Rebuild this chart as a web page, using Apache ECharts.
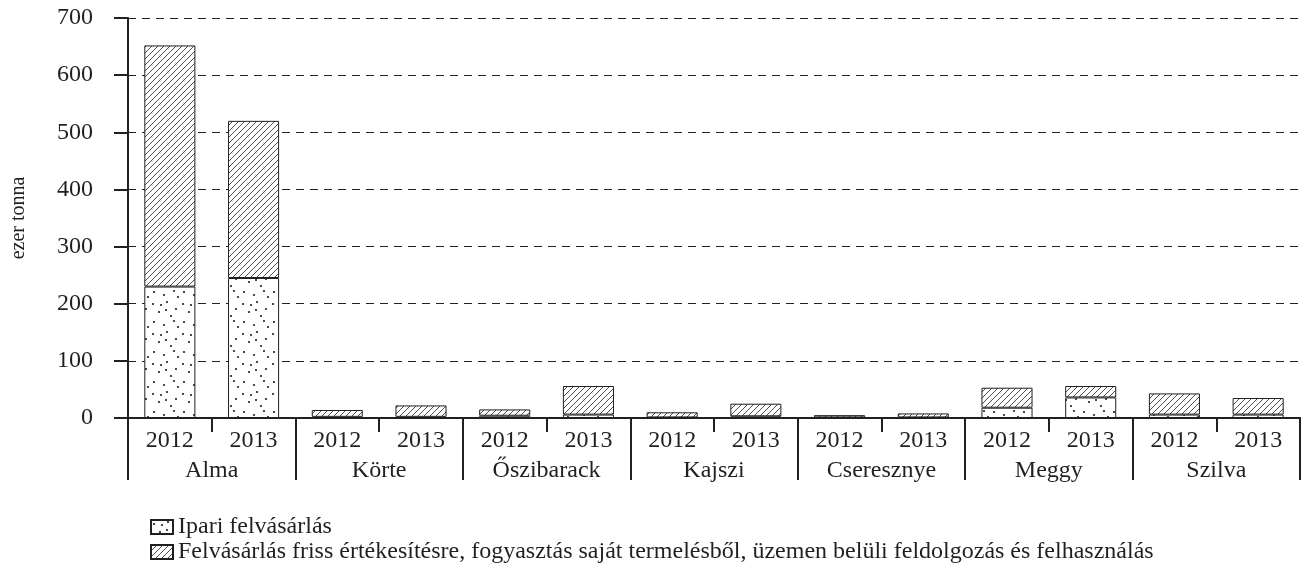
<!DOCTYPE html>
<html>
<head>
<meta charset="utf-8">
<script src="https://cdn.jsdelivr.net/npm/echarts@6/dist/echarts.min.js"></script>
<style>
  html, body { margin: 0; padding: 0; background: #fff; }
  #chart { width: 1304px; height: 572px; }
</style>
</head>
<body>
<div id="chart"></div>
<script>
// adatok (ezer tonna)
var fruits = ['Alma', 'Körte', 'Őszibarack', 'Kajszi', 'Cseresznye', 'Meggy', 'Szilva'];
var yearLabels = ['2012', '2013', '2012', '2013', '2012', '2013', '2012', '2013',
                  '2012', '2013', '2012', '2013', '2012', '2013'];
var ipari = [230, 245, 2, 2, 4, 6, 1, 3, 1, 1, 18, 36, 6, 6];
var friss = [422, 275, 12, 20, 11, 50, 9, 22, 4, 7, 35, 20, 37, 29];
var yTicks = [0, 100, 200, 300, 400, 500, 600, 700];

var ink = '#231f20';
var font = "'Liberation Serif', 'Times New Roman', serif";

// hatch pattern: "/" lines
function hatchPattern() {
    var c = document.createElement('canvas');
    c.width = 6; c.height = 6;
    var g = c.getContext('2d');
    g.fillStyle = '#fff';
    g.fillRect(0, 0, 6, 6);
    g.strokeStyle = ink;
    g.lineWidth = 0.8;
    g.beginPath();
    g.moveTo(0, 6); g.lineTo(6, 0);
    g.moveTo(-1, 1); g.lineTo(1, -1);
    g.moveTo(5, 7); g.lineTo(7, 5);
    g.stroke();
    return c;
}

// dot pattern, fixed positions in a tile
var dotPos = [[3, 4], [17, 2], [26, 9], [9, 12], [21, 16], [4, 22], [14, 25], [28, 27], [11, 5], [24, 21], [16, 10]];
function dotPattern() {
    var c = document.createElement('canvas');
    c.width = 30; c.height = 30;
    var g = c.getContext('2d');
    g.fillStyle = '#fff';
    g.fillRect(0, 0, 30, 30);
    g.fillStyle = ink;
    dotPos.forEach(function (p) {
        g.beginPath();
        g.arc(p[0], p[1], 1.1, 0, Math.PI * 2);
        g.fill();
    });
    return c;
}

var chart = echarts.init(document.getElementById('chart'));
chart.setOption({
    backgroundColor: '#fff',
    animation: false,
    textStyle: { fontFamily: font, color: ink },
    grid: { left: 128, right: 4, top: 18, bottom: 154, outerBoundsMode: 'none', containLabel: false },
    legend: {
        orient: 'vertical',
        left: 150,
        top: 515,
        padding: 0,
        icon: 'rect',
        itemWidth: 22,
        itemHeight: 14,
        itemGap: 1,
        textStyle: { fontFamily: font, fontSize: 24, lineHeight: 24, color: ink },
        data: ['Ipari felvásárlás',
               'Felvásárlás friss értékesítésre, fogyasztás saját termelésből, üzemen belüli feldolgozás és felhasználás']
    },
    xAxis: [{
        type: 'category',
        data: yearLabels,
        axisLine: { show: true, lineStyle: { color: ink, width: 2 } },
        axisTick: { show: true, interval: 0, length: 14, lineStyle: { color: ink, width: 2 } },
        axisLabel: { interval: 0, margin: 11, fontSize: 24, color: ink, fontFamily: font }
    }, {
        type: 'category',
        data: fruits,
        position: 'bottom',
        axisLine: { show: true, lineStyle: { color: ink, width: 2 } },
        axisTick: { show: true, interval: 0, length: 62, lineStyle: { color: ink, width: 2 } },
        axisLabel: { interval: 0, margin: 41, fontSize: 24, color: ink, fontFamily: font }
    }],
    yAxis: {
        type: 'value',
        min: yTicks[0],
        max: yTicks[yTicks.length - 1],
        interval: 100,
        name: 'ezer tonna',
        nameLocation: 'middle',
        nameRotate: 90,
        nameGap: 99,
        nameTextStyle: { fontSize: 20, color: ink, fontFamily: font },
        axisLine: { show: true, lineStyle: { color: ink, width: 2 } },
        axisTick: { show: true, length: 14, lineStyle: { color: ink, width: 2 } },
        axisLabel: { margin: 35, fontSize: 24, color: ink, fontFamily: font },
        splitLine: { lineStyle: { color: ink, width: 1, type: [8, 6] } }
    },
    series: [{
        name: 'Ipari felvásárlás',
        type: 'bar',
        stack: 'total',
        barWidth: '61%',
        data: ipari,
        itemStyle: {
            color: { image: dotPattern(), repeat: 'repeat' },
            borderColor: ink,
            borderWidth: 1
        }
    }, {
        name: 'Felvásárlás friss értékesítésre, fogyasztás saját termelésből, üzemen belüli feldolgozás és felhasználás',
        type: 'bar',
        stack: 'total',
        barWidth: '61%',
        data: friss,
        itemStyle: {
            color: { image: hatchPattern(), repeat: 'repeat' },
            borderColor: ink,
            borderWidth: 1
        }
    }]
});
</script>
</body>
</html>
